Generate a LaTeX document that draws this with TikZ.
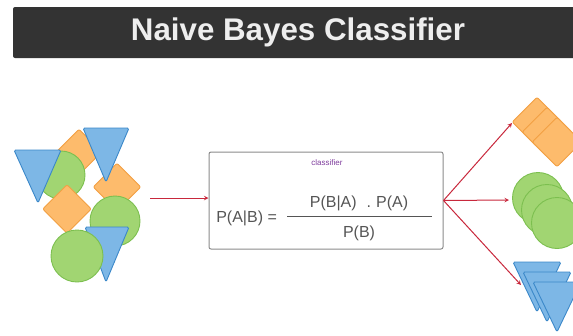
\documentclass[tikz,border=0pt]{standalone}
\usepackage{fontspec}
\setmainfont{Liberation Sans}
\usepackage{tikz}
\usetikzlibrary{shapes.geometric}
\usetikzlibrary{arrows}
\definecolor{titlegray}{HTML}{333333}
\definecolor{titletext}{HTML}{EEEEEE}
\definecolor{orangefill}{HTML}{FDBB6C}
\definecolor{orangeline}{HTML}{F2A043}
\definecolor{greenfill}{HTML}{A1D572}
\definecolor{greenline}{HTML}{7CBF4F}
\definecolor{bluefill}{HTML}{7DB7E6}
\definecolor{blueline}{HTML}{3B88C9}
\definecolor{arrowred}{HTML}{C8283C}
\definecolor{textgray}{HTML}{555555}
\definecolor{boxgray}{HTML}{8A8A8A}
\definecolor{purpletext}{HTML}{7E3C9C}

\begin{document}
\begin{tikzpicture}[
            x = 1pt, y = -1pt, % one unit per pixel, y going down
            > = stealth, % arrow head style
            semithick % line style
        ]

        \tikzstyle{tri}=[
            fill = bluefill,
            draw = blueline,
            line width = 0.9pt,
            rounded corners = 1.5pt
        ]
        \tikzstyle{dia}=[
            diamond,
            fill = orangefill,
            draw = orangeline,
            line width = 0.9pt,
            rounded corners = 2pt,
            inner sep = 0pt
        ]
        \tikzstyle{circ}=[
            circle,
            fill = greenfill,
            draw = greenline,
            line width = 0.9pt,
            inner sep = 0pt
        ]
        \tikzstyle{flow}=[
            ->,
            draw = arrowred,
            line width = 1pt
        ]

        \useasboundingbox (0,0) rectangle (573,335);
        \clip (0,0) rectangle (573,335);

        % title
        \node[fill = titlegray, rounded corners = 2pt, minimum width = 570pt, minimum height = 51pt,
              text = titletext, font = \fontsize{31.3}{32}\bfseries\selectfont] (title) at (298,32.5)
              {Naive Bayes Classifier};

        % mixed input objects
        \node[dia, minimum size = 46pt] (D1) at (79,152) {};
        \node[circ, minimum size = 48pt] (C1) at (61,175) {};
        \draw[tri] (14,150) -- (61,150) -- (38,203) -- cycle;
        \node[dia, minimum size = 48pt] (D2) at (117,187) {};
        \draw[tri] (83,128) -- (129,128) -- (106,182) -- cycle;
        \node[dia, minimum size = 49pt] (D3) at (67,209) {};
        \node[circ, minimum size = 50pt] (C2) at (115,221) {};
        \draw[tri] (85,227) -- (129,227) -- (106,282) -- cycle;
        \node[circ, minimum size = 52pt] (C3) at (77,256) {};

        % classifier box
        \node[draw = boxgray, line width = 1pt, rounded corners = 2pt,
              minimum width = 234pt, minimum height = 97pt] (clf) at (326,200.5) {};
        \node[text = purpletext, font = \fontsize{8}{8}\selectfont] (lbl) at (327,163) {classifier};
        \node[anchor = base west, inner sep = 0pt, text = textgray, font = \fontsize{16}{19}\selectfont]
              (lhs) at (216,222) {P(A|B) =};
        \node[anchor = base, inner sep = 0pt, text = textgray, font = \fontsize{16}{19}\selectfont]
              (num) at (359,207) {P(B|A)\hspace{10pt}.\hspace{5pt}P(A)};
        \node[anchor = base, inner sep = 0pt, text = textgray, font = \fontsize{16}{19}\selectfont]
              (den) at (359,237) {P(B)};
        \draw[draw = textgray, line width = 0.8pt] (287,216) -- (432,216);

        % sorted output objects
        \node[dia, minimum size = 50pt] (O1) at (537,122) {};
        \node[dia, minimum size = 50pt] (O2) at (547,132) {};
        \node[dia, minimum size = 50pt] (O3) at (557,142) {};

        \node[circ, minimum size = 51pt] (G1) at (538,198) {};
        \node[circ, minimum size = 51pt] (G2) at (547,210) {};
        \node[circ, minimum size = 51pt] (G3) at (557,223) {};

        \draw[tri] (513,262) -- (561,262) -- (537,312) -- cycle;
        \draw[tri] (523,272) -- (571,272) -- (547,322) -- cycle;
        \draw[tri] (533,282) -- (581,282) -- (557,332) -- cycle;

        % arrows
        \coordinate (src) at (150,198);
        \coordinate (toOrange) at (512,123);
        \coordinate (toGreen) at (509,200);
        \coordinate (toBlue) at (521,285);

        \draw[flow] (src) -- (src -| clf.west);
        \draw[flow] (clf.east) -- (toOrange);
        \draw[flow] (clf.east) -- (toGreen);
        \draw[flow] (clf.east) -- (toBlue);

\end{tikzpicture}
\end{document}
